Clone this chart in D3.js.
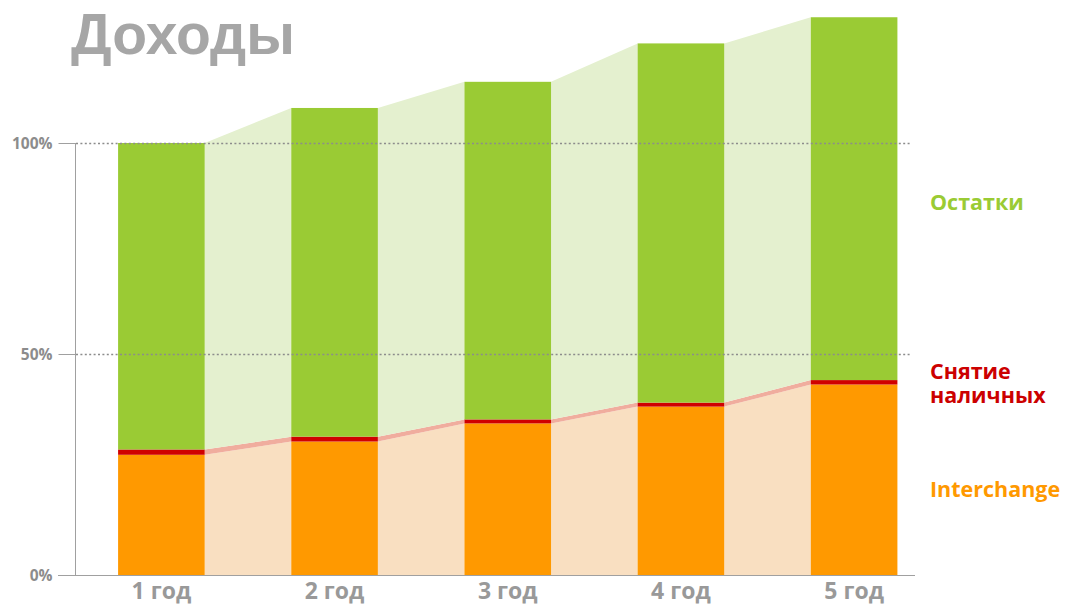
<!DOCTYPE html>
<html>
<head>
<meta charset="utf-8">
<script src="https://cdn.jsdelivr.net/npm/d3@7"></script>
<style>
  body { margin: 0; background: #fff; }
  svg { display: block; }
</style>
</head>
<body>
<svg id="chart" width="1067" height="604"></svg>
<script>
const years = ["1 год", "2 год", "3 год", "4 год", "5 год"];
const interchange = [27.2, 30.2, 34.3, 38.1, 43.1];
const cash = [1.2, 1.1, 0.9, 0.9, 1.0];
const totals = [100, 108.3, 114.5, 123.6, 129.8];
const yTicks = [0, 50, 100];
const legendItems = [
  { label: ["Остатки"], color: "#9acb34", y: 210 },
  { label: ["Снятие", "наличных"], color: "#cc0000", y: 379 },
  { label: ["Interchange"], color: "#ff9900", y: 497 }
];

const svg = d3.select("#chart");

const x = d3.scaleBand()
  .domain(years)
  .range([31.5, 984])
  .paddingInner(0.5)
  .paddingOuter(0.5);

// the picture's axis is a little uneven between 0-50 and 50-100
const y = d3.scaleLinear()
  .domain([0, 50, 100])
  .range([575, 354, 143]);

const rows = years.map((yr, i) => {
  const top1 = interchange[i];
  const top2 = top1 + cash[i];
  return { yr, i, top1, top2, total: totals[i] };
});

const colors = {
  interchange: "#ff9900", cash: "#d00000", rest: "#9acb34",
  interchangeLight: "#f9dfc1", cashLight: "#f0ad9e", restLight: "#e4f0cf"
};

// connecting bands between bars
const gaps = svg.append("g");
for (let i = 0; i < rows.length - 1; i++) {
  const a = rows[i], b = rows[i + 1];
  const x0 = x(a.yr) + x.bandwidth();
  const x1 = x(b.yr);
  const band = (lo0, hi0, lo1, hi1, fill) => {
    gaps.append("path")
      .attr("d", `M${x0},${y(lo0)} L${x0},${y(hi0)} L${x1},${y(hi1)} L${x1},${y(lo1)} Z`)
      .attr("fill", fill);
  };
  band(0, a.top1, 0, b.top1, colors.interchangeLight);
  band(a.top1, a.top2, b.top1, b.top2, colors.cashLight);
  band(a.top2, a.total, b.top2, b.total, colors.restLight);
}

// stacked bars
const bars = svg.append("g");
rows.forEach(d => {
  const segs = [
    [0, d.top1, colors.interchange],
    [d.top1, d.top2, colors.cash],
    [d.top2, d.total, colors.rest]
  ];
  segs.forEach(([lo, hi, c]) => {
    bars.append("rect")
      .attr("x", x(d.yr))
      .attr("y", y(hi))
      .attr("width", x.bandwidth())
      .attr("height", y(lo) - y(hi))
      .attr("fill", c);
  });
});

// dotted gridlines
svg.append("g")
  .selectAll("line")
  .data(yTicks.filter(t => t > 0))
  .join("line")
  .attr("x1", 76)
  .attr("x2", 912)
  .attr("y1", d => Math.round(y(d)) + 0.5)
  .attr("y2", d => Math.round(y(d)) + 0.5)
  .attr("stroke", "#8c8c8c")
  .attr("stroke-width", 1.5)
  .attr("stroke-dasharray", "2,2.4");

// y axis
const yAxis = svg.append("g")
  .attr("transform", "translate(75.5,0)")
  .call(d3.axisLeft(y).tickValues(yTicks).tickSize(17).tickPadding(6)
    .tickFormat(d => d + "%"));
yAxis.select(".domain").attr("stroke", "#a0a0a0").attr("d", `M0,${y(100)}V${y(0)}`);
yAxis.selectAll(".tick line").attr("stroke", "#a0a0a0");
yAxis.selectAll(".tick text")
  .attr("fill", "#8c8c8c")
  .attr("font-family", "'Open Sans', sans-serif")
  .attr("font-weight", "bold")
  .attr("font-size", "15.5px")
  .attr("dy", "0.35em");

// x baseline
svg.append("line")
  .attr("x1", 58).attr("x2", 915)
  .attr("y1", y(0) + 0.5).attr("y2", y(0) + 0.5)
  .attr("stroke", "#a0a0a0");

// category labels
svg.append("g")
  .selectAll("text")
  .data(years)
  .join("text")
  .attr("x", d => x(d) + x.bandwidth() / 2)
  .attr("y", 599)
  .attr("text-anchor", "middle")
  .attr("fill", "#999999")
  .attr("font-family", "'Open Sans', sans-serif")
  .attr("font-weight", "bold")
  .attr("font-size", "23px")
  .text(d => d);

// legend labels at right
const legend = svg.append("g");
legendItems.forEach(item => {
  const t = legend.append("text")
    .attr("x", 930)
    .attr("y", item.y)
    .attr("fill", item.color)
    .attr("font-family", "'Open Sans', sans-serif")
    .attr("font-weight", "bold")
    .attr("font-size", "21.5px");
  item.label.forEach((line, k) => {
    t.append("tspan").attr("x", 930).attr("dy", k === 0 ? 0 : 24).text(line);
  });
});

// title
svg.append("text")
  .attr("x", 71)
  .attr("y", 54)
  .attr("fill", "#a6a6a6")
  .attr("font-family", "'Liberation Sans', Arial, sans-serif")
  .attr("font-weight", "bold")
  .attr("font-size", "57px")
  .text("Доходы");
</script>
</body>
</html>
